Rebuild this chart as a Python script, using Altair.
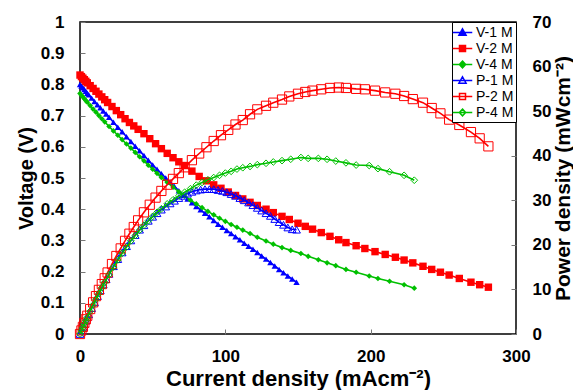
import altair as alt
import pandas as pd

FONT = "Liberation Sans"

names = ["V-1 M", "V-2 M", "V-4 M", "P-1 M", "P-2 M", "P-4 M"]
colors = ["#0000FF", "#FF0000", "#00C000", "#0000FF", "#FF0000", "#00C000"]
fills = ["#0000FF", "#FF0000", "#00C000", "white", "white", "white"]
shapes = ["triangle-up", "square", "diamond", "triangle-up", "square", "diamond"]
sizes = [40, 55, 32, 60, 85, 45]
legend_paths = [
    "M-1.3,0H1.3M0,-0.5L0.48,0.36L-0.48,0.36Z",
    "M-1.3,0H1.3M-0.4,-0.4H0.4V0.4H-0.4Z",
    "M-1.3,0H1.3M0,-0.45L0.42,0L0,0.45L-0.42,0Z",
    "M-1.3,0H1.3M0,-0.5L0.48,0.36L-0.48,0.36Z",
    "M-1.3,0H1.3M-0.4,-0.4H0.4V0.4H-0.4Z",
    "M-1.3,0H1.3M0,-0.45L0.42,0L0,0.45L-0.42,0Z",
]

x_ticks = [0, 100, 200, 300]
v_ticks = [0, 0.1, 0.2, 0.3, 0.4, 0.5, 0.6, 0.7, 0.8, 0.9, 1]
p_ticks = [0, 10, 20, 30, 40, 50, 60, 70]

# 1 M
x1 = [0, 1, 2, 3, 4, 5, 6, 8, 10, 12, 14, 16, 18, 20, 23, 26, 29, 32, 35, 38,
      41, 44, 47, 50, 53, 56, 59, 62, 65, 68, 71, 74, 77, 80, 83, 86, 89, 92, 95, 98,
      101, 104, 107, 110, 113, 116, 119, 122, 125, 128, 131, 134, 137, 140, 143, 146, 149]
v1 = [0.800, 0.795, 0.789, 0.784, 0.778, 0.772, 0.767, 0.756, 0.745, 0.735, 0.725, 0.715, 0.705, 0.695,
      0.679, 0.663, 0.648, 0.632, 0.617, 0.602, 0.587, 0.572, 0.557, 0.542, 0.528, 0.514, 0.500, 0.487,
      0.473, 0.459, 0.445, 0.433, 0.421, 0.409, 0.398, 0.387, 0.376, 0.364, 0.352, 0.342, 0.332, 0.322,
      0.312, 0.302, 0.291, 0.281, 0.272, 0.261, 0.250, 0.240, 0.229, 0.218, 0.207, 0.196, 0.186, 0.176, 0.166]
p1 = [0, 0.8, 1.6, 2.3, 3.0, 3.7, 4.4, 5.8, 7.1, 8.5, 9.8, 11.1, 12.3, 13.5,
      15.2, 16.8, 18.3, 19.7, 21.0, 22.2, 23.4, 24.4, 25.4, 26.3, 27.1, 27.9, 28.6, 29.3,
      29.9, 30.5, 31.0, 31.5, 31.9, 32.2, 32.4, 32.5, 32.5, 32.5, 32.3, 32.1, 31.8, 31.4,
      31.0, 30.5, 30.0, 29.5, 28.9, 28.3, 27.7, 27.1, 26.5, 25.8, 25.1, 24.5, 23.9, 23.5, 23.4]

# 2 M
x2 = [0, 1, 2, 3, 4, 5, 7, 9, 11, 13, 15, 17, 19, 22, 25, 28, 31, 34, 37, 40,
      44, 48, 52, 56, 60, 64, 68, 72, 77, 82, 87, 92, 97, 102, 107, 112, 117, 122,
      128, 133, 139, 144, 150, 155, 160, 166, 172, 178, 183, 190, 196, 203, 210, 217,
      223, 229, 236, 242, 248, 254, 261, 269, 275, 281]
v2 = [0.830, 0.825, 0.820, 0.815, 0.810, 0.805, 0.796, 0.787, 0.778, 0.769, 0.760, 0.751, 0.742,
      0.729, 0.716, 0.703, 0.690, 0.678, 0.667, 0.656, 0.642, 0.626, 0.610, 0.594, 0.579, 0.565,
      0.552, 0.540, 0.522, 0.505, 0.491, 0.478, 0.467, 0.455, 0.444, 0.433, 0.422, 0.412,
      0.400, 0.389, 0.377, 0.367, 0.355, 0.345, 0.336, 0.325, 0.313, 0.302, 0.293, 0.283,
      0.274, 0.264, 0.255, 0.246, 0.237, 0.228, 0.217, 0.207, 0.198, 0.189, 0.178, 0.166, 0.158, 0.150]
p2 = [0, 0.8, 1.6, 2.5, 3.3, 4.1, 5.6, 7.1, 8.5, 9.9, 11.2, 12.5, 13.8,
      15.7, 17.5, 19.2, 20.9, 22.5, 24.0, 25.5, 27.3, 29.0, 30.6, 32.1, 33.5, 34.8,
      36.1, 37.4, 39.0, 40.5, 41.9, 43.3, 44.6, 45.8, 47.0, 48.0, 49.3, 50.4,
      51.2, 51.9, 52.6, 53.3, 53.9, 54.3, 54.6, 54.9, 55.2, 55.3, 55.2, 55.0,
      54.9, 54.6, 54.2, 53.9, 53.4, 52.7, 51.9, 50.7, 49.5, 48.1, 46.9, 45.3, 43.9, 42.1]

# 4 M
x4 = [0, 1, 2, 3, 4, 5, 7, 9, 11, 13, 15, 17, 20, 23, 26, 29, 32, 35, 38, 41, 44,
      47, 50, 53, 56, 60, 64, 68, 72, 76, 80, 84, 88, 92, 96, 100, 104, 108, 112,
      117, 122, 128, 133, 139, 145, 152, 157, 164, 170, 176, 183, 190, 199, 205, 213, 223, 230]
v4 = [0.771, 0.765, 0.760, 0.754, 0.748, 0.743, 0.732, 0.721, 0.711, 0.700, 0.690, 0.680,
      0.665, 0.651, 0.637, 0.623, 0.609, 0.596, 0.582, 0.568, 0.555, 0.541, 0.528, 0.515, 0.502,
      0.486, 0.471, 0.456, 0.442, 0.429, 0.417, 0.405, 0.393, 0.382, 0.371, 0.361, 0.351, 0.342, 0.333,
      0.322, 0.310, 0.298, 0.288, 0.277, 0.268, 0.258, 0.249, 0.238, 0.228,
      0.219, 0.207, 0.198, 0.186, 0.178, 0.169, 0.158, 0.147]
p4 = [0, 0.8, 1.5, 2.3, 3.0, 3.7, 5.1, 6.5, 7.8, 9.1, 10.4, 11.6,
      13.3, 15.0, 16.6, 18.1, 19.5, 20.9, 22.1, 23.3, 24.4, 25.4, 26.4, 27.3, 28.1,
      29.2, 30.1, 31.0, 31.8, 32.6, 33.4, 34.0, 34.6, 35.1, 35.6, 36.1, 36.5, 37.0, 37.3,
      37.6, 38.0, 38.3, 38.6, 38.9, 39.2, 39.6, 39.4, 39.4, 39.2,
      38.8, 38.4, 37.9, 37.8, 37.1, 36.4, 35.6, 34.5]

series_data = [(x1, v1), (x2, v2), (x4, v4), (x1, p1), (x2, p2), (x4, p4)]

x_axis = alt.Axis(values=x_ticks, title="Current density (mAcm⁻²)", offset=-5, tickSize=5,
                  labelPadding=14, titlePadding=4, labelFlush=False, titleFontSize=22)
x_enc = alt.X("x:Q", scale=alt.Scale(domain=[0, 300], nice=False), axis=x_axis)

y_v = alt.Y("y:Q", scale=alt.Scale(domain=[0, 1], nice=False, zero=True),
            axis=alt.Axis(orient="left", values=v_ticks, format="~g", title="Voltage (V)",
                          offset=-5, tickSize=5, labelPadding=16, titlePadding=4,
                          labelFlush=False, titleFontSize=20))
y_p = alt.Y("y:Q", scale=alt.Scale(domain=[0, 70], nice=False, zero=True),
            axis=alt.Axis(orient="right", values=p_ticks, title="Power density (mWcm⁻²)",
                          offset=-5, tickSize=5, labelPadding=16, titlePadding=2,
                          titleAngle=270, titleBaseline="top",
                          labelFlush=False, titleFontSize=21))


def series_layer(i, y_enc):
    xs, ys = series_data[i]
    df = pd.DataFrame({"x": xs, "y": ys, "series": names[i]})
    filled = i < 3
    return alt.Chart(df).mark_line(
        color=colors[i], strokeWidth=1.6,
        point=alt.OverlayMarkDef(shape=shapes[i], size=sizes[i], filled=filled,
                                 color=colors[i], strokeWidth=1, opacity=1),
    ).encode(x=x_enc, y=y_enc)


legend_df = pd.DataFrame({"x": [0] * 6, "y": [0] * 6, "series": names})
legend_layer = alt.Chart(legend_df).transform_filter("false").mark_point(
    strokeWidth=1.5, opacity=1
).encode(
    x=x_enc, y=y_v,
    color=alt.Color("series:N", scale=alt.Scale(domain=names, range=colors),
                    legend=alt.Legend(title=None)),
    fill=alt.Fill("series:N", scale=alt.Scale(domain=names, range=fills),
                  legend=alt.Legend(title=None)),
    shape=alt.Shape("series:N", scale=alt.Scale(domain=names, range=legend_paths),
                    legend=alt.Legend(title=None)),
)

v_group = alt.layer(*[series_layer(i, y_v) for i in range(3)], legend_layer)
p_group = alt.layer(*[series_layer(i, y_p) for i in range(3, 6)])

chart = alt.layer(v_group, p_group).resolve_scale(y="independent").properties(
    width=436, height=312,
    padding={"left": 72, "top": 14, "right": 57, "bottom": 60},
    autosize=alt.AutoSizeParams(type="none"),
).configure_view(
    stroke="black", strokeWidth=1.5
).configure_axis(
    labelFont=FONT, titleFont=FONT, labelFontSize=17, labelFontWeight="bold",
    titleFontWeight="bold", labelColor="black", titleColor="black",
    grid=False, domain=False, tickColor="#777777", tickWidth=1,
).configure_legend(
    orient="top-right", offset=0, strokeColor="black", fillColor="white", padding=2,
    labelFont=FONT, labelFontSize=14, labelColor="black", symbolSize=225,
    symbolStrokeWidth=1.5, rowPadding=0, labelOffset=5, cornerRadius=0,
)

chart.save("out.html", embed_options={"renderer": "svg", "actions": False})
